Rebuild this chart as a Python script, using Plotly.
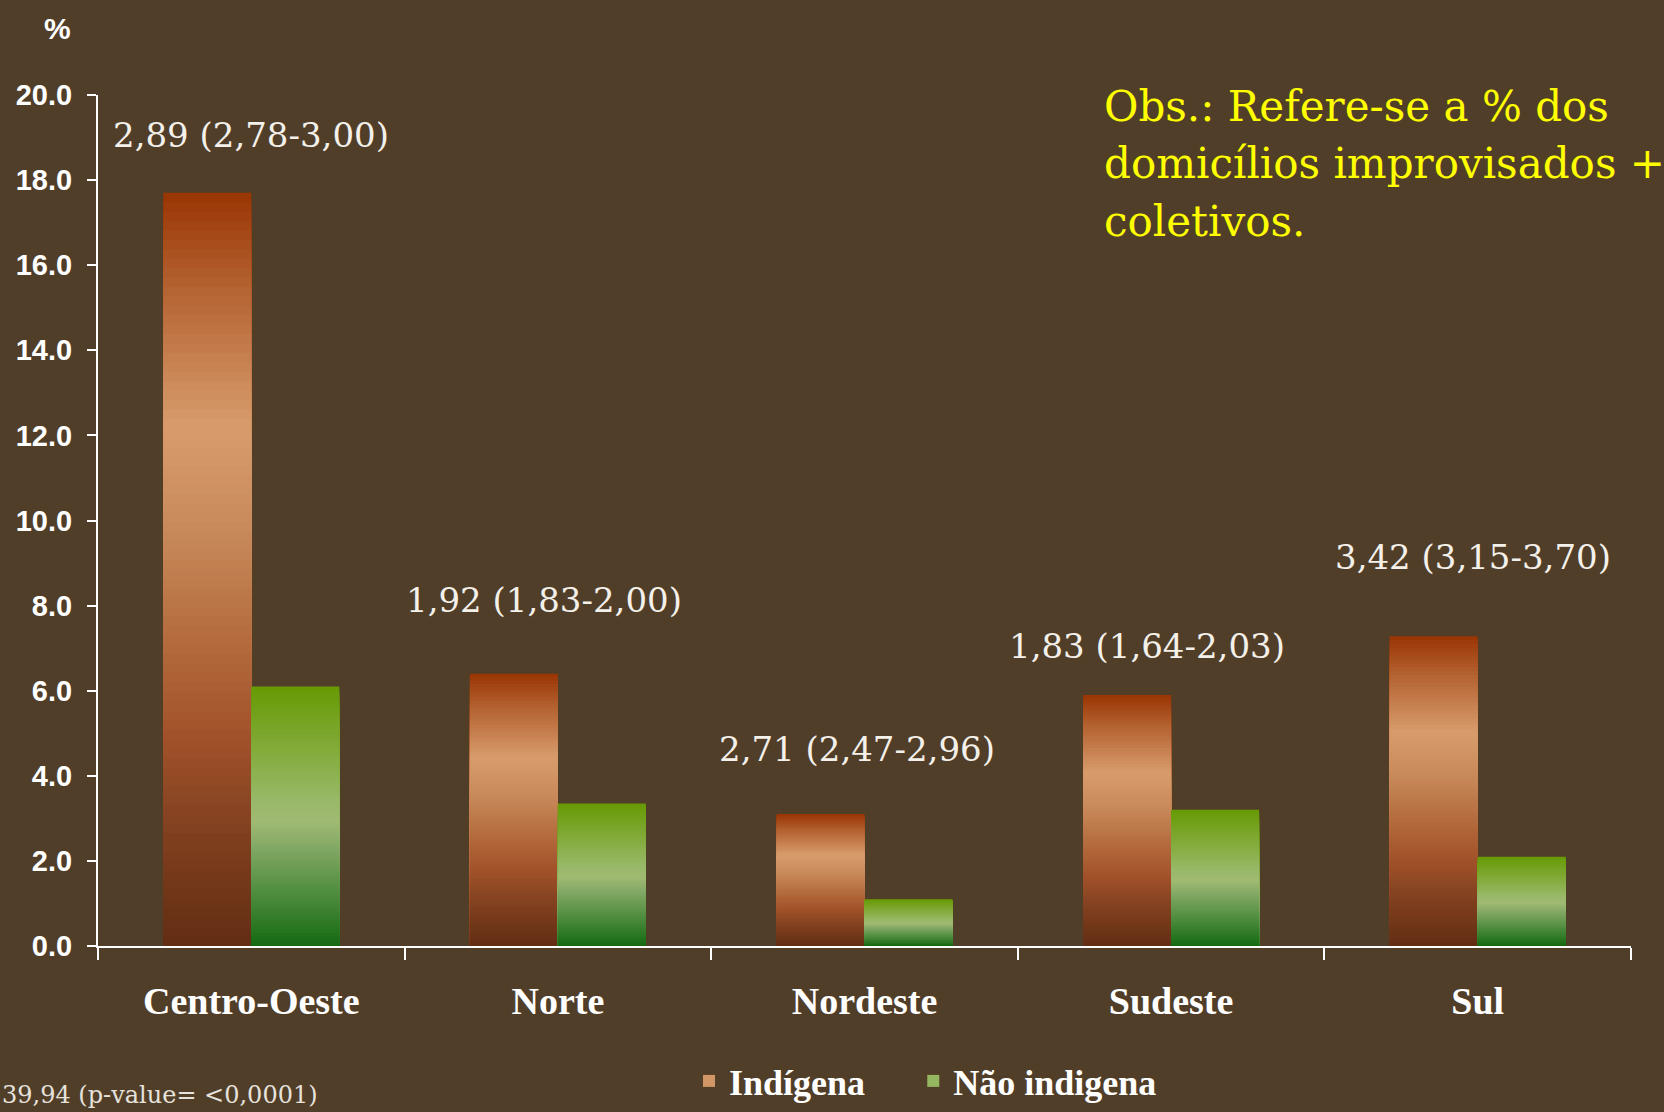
import plotly.graph_objects as go

# ---- data ----
categories = ["Centro-Oeste", "Norte", "Nordeste", "Sudeste", "Sul"]
indigena = [17.7, 6.4, 3.1, 5.9, 7.28]
nao_indigena = [6.1, 3.35, 1.1, 3.2, 2.1]
ratio_labels = ["2,89 (2,78-3,00)", "1,92 (1,83-2,00)", "2,71 (2,47-2,96)",
                "1,83 (1,64-2,03)", "3,42 (3,15-3,70)"]
y_ticks = [0, 2, 4, 6, 8, 10, 12, 14, 16, 18, 20]
obs_lines = ["Obs.: Refere-se a % dos", "domicílios improvisados +", "coletivos."]

# ---- layout helpers (positions / styles) ----
label_y = [19.05, 8.12, 4.62, 7.05, 9.15]
label_dx = [0, -14, -8, -24, -5]
obs_y_px = [106, 163, 222]

BG = "#513E29"
N = 80

ind_stops = [(0.0, "#9A3403"), (0.12, "#B3602F"), (0.31, "#D89C6C"), (0.45, "#C8895A"),
             (0.6, "#B36A3C"), (0.72, "#A2522A"), (0.85, "#80401F"), (1.0, "#632D13")]
grn_stops = [(0.0, "#669A04"), (0.22, "#80A935"), (0.45, "#99B96A"), (0.52, "#A0BA72"),
             (0.62, "#82A865"), (0.8, "#4E8C3D"), (1.0, "#156A12")]


def hex2rgb(h):
    h = h.lstrip("#")
    return tuple(int(h[i:i + 2], 16) for i in (0, 2, 4))


def color_at(stops, t):
    for (t0, c0), (t1, c1) in zip(stops[:-1], stops[1:]):
        if t0 <= t <= t1:
            f = 0 if t1 == t0 else (t - t0) / (t1 - t0)
            a, b = hex2rgb(c0), hex2rgb(c1)
            r = [round(a[i] + (b[i] - a[i]) * f) for i in range(3)]
            return "rgb(%d,%d,%d)" % tuple(r)
    return stops[-1][1]


BW = 0.287
fig = go.Figure()


def add_series(vals, stops, name, offset, legend_k):
    for k in range(N):
        frac = (N - k) / N           # height fraction of this overlay layer
        t = (k + 0.5) / N            # position from top of bar
        fig.add_trace(go.Bar(
            x=categories,
            y=[v * frac for v in vals],
            offset=offset, width=BW,
            marker=dict(color=color_at(stops, t), line=dict(width=0)),
            name=name, legendgroup=name,
            showlegend=(k == legend_k),
            hoverinfo="skip",
        ))


add_series(indigena, ind_stops, "Indígena" + "\u00a0" * 4 + "\u2009", -BW, int(N * 0.35))
add_series(nao_indigena, grn_stops, "Não indigena", 0, int(N * 0.4))

annotations = []
for c, lab, ly, dx in zip(categories, ratio_labels, label_y, label_dx):
    annotations.append(dict(
        x=c, y=ly, xref="x", yref="y", text=lab, showarrow=False,
        xshift=dx, yanchor="middle",
        font=dict(family="DejaVu Serif", size=34, color="#F4F0EA"),
    ))

for line, py in zip(obs_lines, obs_y_px):
    annotations.append(dict(
        x=(1102 - 98) / 1533, y=(946 - py) / 851, xref="paper", yref="paper",
        xanchor="left", yanchor="middle", align="left", showarrow=False,
        text=line,
        font=dict(family="DejaVu Serif", size=42, color="#FFFF00"),
    ))
annotations.append(dict(
    x=(57 - 98) / 1533, y=(946 - 28) / 851, xref="paper", yref="paper",
    xanchor="center", yanchor="middle", showarrow=False, text="%",
    font=dict(family="Liberation Sans", size=30, color="white", weight="bold"),
))
annotations.append(dict(
    x=(0 - 98) / 1533, y=(946 - 1111) / 851, xref="paper", yref="paper",
    xanchor="left", yanchor="bottom", showarrow=False,
    text="39,94 (p-value= <0,0001)",
    font=dict(family="DejaVu Serif", size=24, color="#E6E2DC"),
))

fig.update_layout(
    width=1664, height=1112,
    paper_bgcolor=BG, plot_bgcolor=BG,
    margin=dict(l=98, r=33, t=95, b=166, autoexpand=False),
    barmode="overlay",
    showlegend=True,
    legend=dict(
        orientation="h", x=(689 - 98) / 1533, xanchor="left",
        y=(946 - 1111) / 851, yanchor="bottom",
        font=dict(family="Liberation Serif", size=36, color="white", weight="bold"),
        bgcolor="rgba(0,0,0,0)", itemclick=False,
    ),
    annotations=annotations,
    xaxis=dict(
        type="category", range=[-0.5, 4.5],
        showline=True, linecolor="white", linewidth=2,
        ticks="outside", tickson="boundaries", ticklen=12, tickwidth=2, tickcolor="white",
        tickfont=dict(family="Liberation Serif", size=38, color="white", weight="bold"),
        ticklabelstandoff=20,
        showgrid=False, zeroline=False,
    ),
    yaxis=dict(
        range=[0, 20], tickvals=y_ticks, tickformat=".1f",
        showline=True, linecolor="white", linewidth=2,
        ticks="outside", ticklen=9, tickwidth=2, tickcolor="white",
        tickfont=dict(family="Liberation Sans", size=29, color="white", weight="bold"),
        ticklabelstandoff=9,
        showgrid=False, zeroline=False,
    ),
)

fig.write_html(
    "out.html",
    config={"displayModeBar": False},
    post_script="document.body.style.margin='0px';document.body.style.background='#513E29';",
)
